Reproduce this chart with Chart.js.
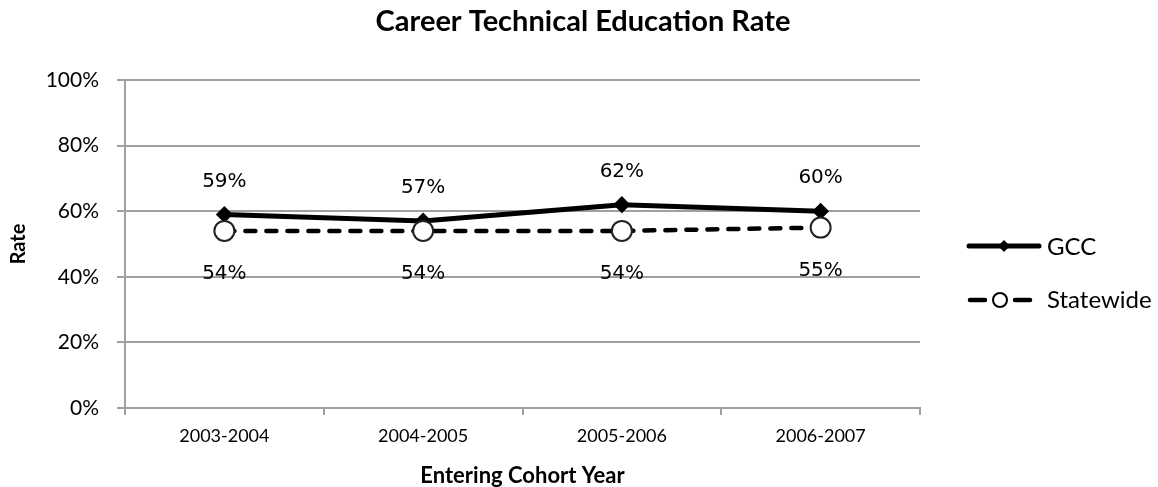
<!DOCTYPE html>
<html>
<head>
<meta charset="utf-8">
<title>Career Technical Education Rate</title>
<script src="https://cdn.jsdelivr.net/npm/chart.js@4/dist/chart.umd.min.js"></script>
<style>
  body { margin: 0; background: #fff; }
  .wrap { width: 1158px; height: 487px; position: relative; }
</style>
</head>
<body>
<div class="wrap"><canvas id="myChart"></canvas></div>
<script>
const categories = ["2003-2004", "2004-2005", "2005-2006", "2006-2007"];
const gccValues = [59, 57, 62, 60];
const statewideValues = [54, 54, 54, 55];
const gccLabels = ["59%", "57%", "62%", "60%"];
const statewideLabels = ["54%", "54%", "54%", "55%"];
const yTickLabels = ["0%", "20%", "40%", "60%", "80%", "100%"];

const gridGrey = "#a0a0a0";

// data labels above GCC, below Statewide
const pointLabels = {
    id: "pointLabels",
    afterDatasetsDraw(chart) {
        const ctx = chart.ctx;
        ctx.save();
        ctx.font = "20px 'DejaVu Sans'";
        ctx.fillStyle = "#000";
        ctx.textAlign = "center";
        ctx.textBaseline = "middle";
        chart.getDatasetMeta(0).data.forEach((pt, i) => {
            ctx.fillText(gccLabels[i], pt.x, pt.y - 33);
        });
        chart.getDatasetMeta(1).data.forEach((pt, i) => {
            ctx.fillText(statewideLabels[i], pt.x, pt.y + 43);
        });
        ctx.restore();
    }
};

// title and legend on the right
const extras = {
    id: "extras",
    afterDraw(chart) {
        const ctx = chart.ctx;
        ctx.save();
        ctx.fillStyle = "#000";
        ctx.textAlign = "center";
        ctx.textBaseline = "alphabetic";
        ctx.font = "bold 29px Lato";
        ctx.fillText("Career Technical Education Rate", 583, 31);

        // GCC
        ctx.strokeStyle = "#000";
        ctx.lineWidth = 5;
        ctx.lineCap = "round";
        ctx.beginPath();
        ctx.moveTo(969, 246);
        ctx.lineTo(1039, 246);
        ctx.stroke();
        ctx.beginPath();
        ctx.moveTo(1004, 240);
        ctx.lineTo(1010, 246);
        ctx.lineTo(1004, 252);
        ctx.lineTo(998, 246);
        ctx.closePath();
        ctx.fill();

        // Statewide
        ctx.lineWidth = 4.5;
        ctx.beginPath();
        ctx.moveTo(970, 300);
        ctx.lineTo(985, 300);
        ctx.moveTo(1015, 300);
        ctx.lineTo(1030, 300);
        ctx.stroke();
        ctx.lineWidth = 2;
        ctx.fillStyle = "#fff";
        ctx.beginPath();
        ctx.arc(1000, 300, 7, 0, Math.PI * 2);
        ctx.fill();
        ctx.stroke();

        ctx.fillStyle = "#000";
        ctx.textAlign = "left";
        ctx.font = "24px Lato";
        ctx.fillText("GCC", 1047, 255);
        ctx.fillText("Statewide", 1047, 308);
        ctx.restore();
    }
};

const myChart = new Chart("myChart", {
    type: "line",
    data: {
        labels: categories,
        datasets: [{
            label: "GCC",
            data: gccValues,
            borderColor: "#000",
            backgroundColor: "#000",
            borderWidth: 5,
            pointStyle: "rectRot",
            pointRadius: 5,
            pointBackgroundColor: "#000",
            pointBorderColor: "#000",
            tension: 0,
            order: 1
        }, {
            label: "Statewide",
            data: statewideValues,
            borderColor: "#000",
            backgroundColor: "#fff",
            borderWidth: 4.5,
            borderDash: [10, 11],
            borderCapStyle: "round",
            pointStyle: "circle",
            pointRadius: 10,
            pointBorderWidth: 2,
            pointBackgroundColor: "#fff",
            pointBorderColor: "#222",
            tension: 0,
            order: 0
        }]
    },
    options: {
        responsive: true,
        maintainAspectRatio: false,
        animation: false,
        layout: { padding: { top: 80, right: 238, left: 0, bottom: 0 } },
        plugins: {
            legend: { display: false },
            title: { display: false },
            tooltip: { enabled: false }
        },
        scales: {
            x: {
                offset: true,
                grid: { offset: true, drawOnChartArea: false, color: gridGrey, lineWidth: 2, tickLength: 7 },
                border: { color: gridGrey, width: 2 },
                ticks: { font: { family: "Lato", size: 18 }, color: "#000", padding: 10, maxRotation: 0 },
                title: {
                    display: true,
                    text: "Entering Cohort Year",
                    font: { family: "Lato", size: 22, weight: "bold", lineHeight: 1 },
                    color: "#000",
                    padding: { top: 0, bottom: 0 }
                },
                afterFit: (s) => { s.height = 79; }
            },
            y: {
                min: 0,
                max: 100,
                ticks: {
                    stepSize: 20,
                    font: { family: "Lato", size: 21 },
                    color: "#000",
                    padding: 18,
                    callback: (v, i) => yTickLabels[i]
                },
                grid: { color: gridGrey, lineWidth: 2, tickLength: 8 },
                border: { color: gridGrey, width: 2 },
                title: {
                    display: true,
                    text: "Rate",
                    font: { family: "Lato", size: 20, weight: "bold" },
                    color: "#000",
                    padding: { top: 7, bottom: 0 }
                },
                afterFit: (s) => { s.width = 125; }
            }
        }
    },
    plugins: [pointLabels, extras]
});
</script>
</body>
</html>
